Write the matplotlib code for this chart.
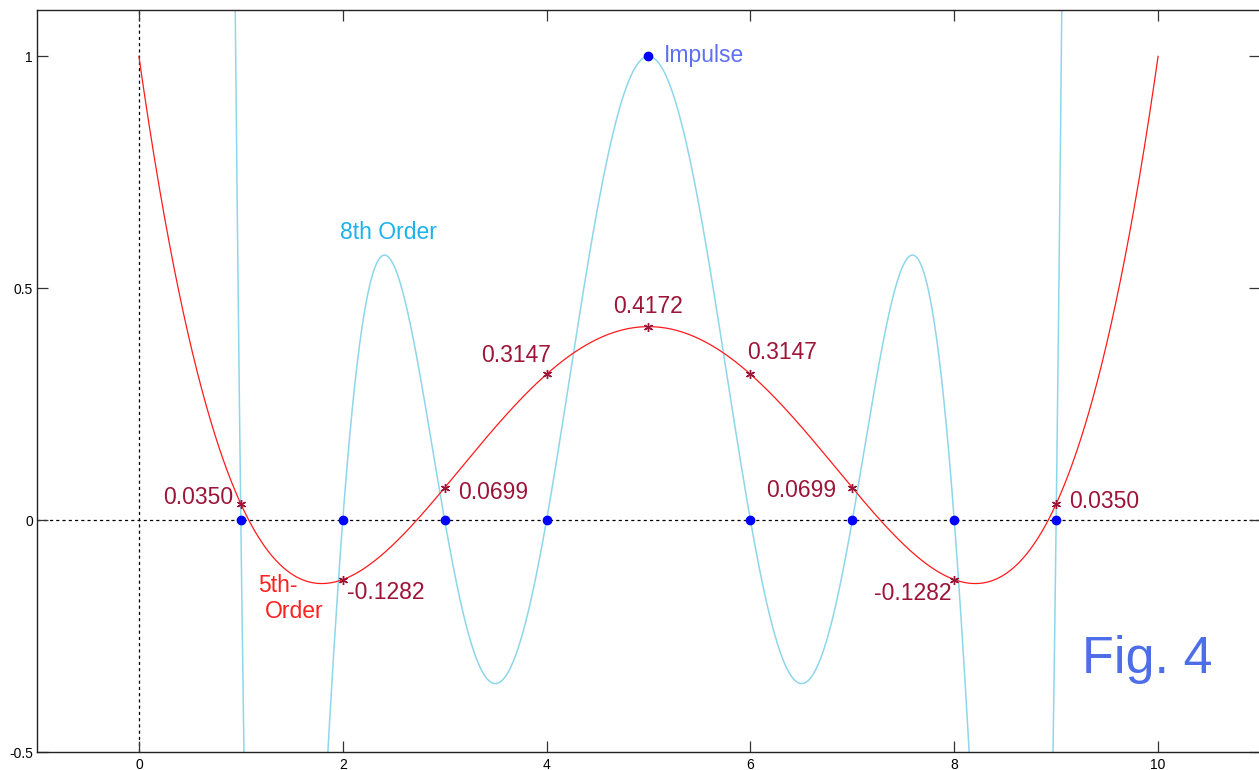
import numpy as np
import matplotlib
matplotlib.use("Agg")
import matplotlib.pyplot as plt

plt.rcParams['font.family'] = ['Liberation Sans', 'DejaVu Sans']

# Impulse samples at integer positions
sample_x = [1, 2, 3, 4, 5, 6, 7, 8, 9]
impulse_y = [0, 0, 0, 0, 1, 0, 0, 0, 0]

# Values of the least-squares 5th-order fit at the sample positions
fit5_labels = ["0.0350", "-0.1282", "0.0699", "0.3147", "0.4172",
               "0.3147", "0.0699", "-0.1282", "0.0350"]
fit5_values = [float(s) for s in fit5_labels]

x_ticks = [0, 2, 4, 6, 8, 10]
y_ticks = [-0.5, 0, 0.5, 1]
y_tick_labels = ["-0.5", "0", "0.5", "1"]

label_col = "#9c1538"
cyan_col = "#8ed6ea"

fig = plt.figure(figsize=(12.59, 7.70), dpi=100)
ax = fig.add_axes([37 / 1259, 18 / 770, 1223 / 1259, 742 / 770])

ax.set_xlim(-1, 11)
ax.set_ylim(-0.5, 1.1)

# reference lines
ax.axhline(0, color="black", lw=0.9, ls=(0, (2.5, 2.5)), zorder=1)
ax.axvline(0, color="black", lw=0.9, ls=(0, (2.5, 2.5)), zorder=1)

xx = np.linspace(0, 10, 2001)

# 8th-order interpolating polynomial through the impulse
p8 = np.polyfit(sample_x, impulse_y, 8)
ax.plot(xx, np.polyval(p8, xx), color=cyan_col, lw=1.1, zorder=2)

# 5th-order least-squares fit to the impulse
p5 = np.polyfit(sample_x, impulse_y, 5)
ax.plot(xx, np.polyval(p5, xx), color="#ff1a1a", lw=0.9, zorder=3)

ax.plot(sample_x, fit5_values, linestyle="none", marker=(6, 2, 0),
        markersize=6.5, markeredgewidth=1.0, color=label_col, zorder=4)
ax.plot(sample_x, impulse_y, linestyle="none", marker="o", markersize=6,
        color="#0000ff", zorder=5)

# value labels
fs = 16.5
label_pos = [
    (0.93, 0.048, "right"), (2.04, -0.155, "left"), (3.13, 0.060, "left"),
    (3.70, 0.356, "center"), (5.00, 0.460, "center"), (6.31, 0.362, "center"),
    (6.84, 0.063, "right"), (7.97, -0.159, "right"), (9.13, 0.041, "left"),
]
for (lx, ly, ha), txt in zip(label_pos, fit5_labels):
    ax.text(lx, ly, txt, color=label_col, fontsize=fs, ha=ha, va="center")

ax.text(5.15, 1.002, "Impulse", color="#5f6ff2", fontsize=fs, ha="left", va="center")
ax.text(1.975, 0.621, "8th Order", color="#1cb2ea", fontsize=fs, ha="left", va="center")
ax.text(1.17, -0.140, "5th-", color="#ff2020", fontsize=fs, ha="left", va="center")
ax.text(1.24, -0.198, "Order", color="#ff2020", fontsize=fs, ha="left", va="center")
ax.text(9.25, -0.300, "Fig. 4", color="#4d6ee8", fontsize=37.5, ha="left", va="center")

ax.set_xticks(x_ticks)
ax.set_xticklabels([str(t) for t in x_ticks])
ax.set_yticks(y_ticks)
ax.set_yticklabels(y_tick_labels)
ax.tick_params(direction="in", length=8, width=0.9, color="#333333",
               labelsize=10, top=True, right=True)
ax.tick_params(axis="x", pad=4)
ax.tick_params(axis="y", pad=3)

for sp in ax.spines.values():
    sp.set_linewidth(1.0)
    sp.set_color("#222222")

fig.savefig("out.png", dpi=100)
